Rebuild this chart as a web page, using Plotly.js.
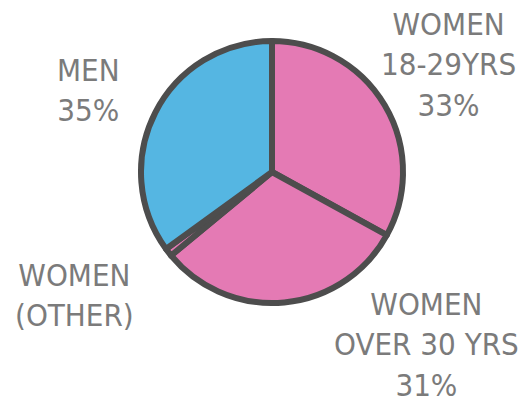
<!DOCTYPE html>
<html>
<head>
<meta charset="utf-8">
<script src="https://cdn.plot.ly/plotly-3.0.1.min.js"></script>
<style>html,body{margin:0;padding:0;background:#fff;}#chart{width:530px;height:408px;}</style>
</head>
<body>
<div id="chart"></div>
<script>
const categories = ["WOMEN 18-29YRS", "WOMEN OVER 30 YRS", "WOMEN (OTHER)", "MEN"];
const shares = [33, 31, 1, 35];
const sliceColors = ["#e47ab4", "#e47ab4", "#e47ab4", "#55b6e2"];
const labelTexts = [
  "WOMEN<br>18-29YRS<br>33%",
  "WOMEN<br>OVER 30 YRS<br>31%",
  "WOMEN<br>(OTHER)",
  "MEN<br>35%"
];
const labelX = [448, 426, 74, 88];
const labelY = [64, 344, 295, 90];

const W = 530, H = 408;
const trace = {
  type: "pie",
  labels: categories,
  values: shares,
  sort: false,
  direction: "clockwise",
  rotation: 0,
  textinfo: "none",
  hoverinfo: "label+percent",
  marker: {colors: sliceColors, line: {color: "#4d4d4d", width: 6}},
  domain: {x: [(272 - 131) / W, (272 + 131) / W], y: [(H - 172 - 131) / H, (H - 172 + 131) / H]},
  showlegend: false
};

const annotations = labelTexts.map((t, i) => ({
  text: t,
  x: labelX[i] / W,
  y: 1 - labelY[i] / H,
  xref: "paper", yref: "paper",
  xanchor: "center", yanchor: "middle",
  align: "center",
  showarrow: false,
  font: {family: "DejaVu Sans Condensed, DejaVu Sans, sans-serif", size: 31, color: "#7b7b7b"}
}));

Plotly.newPlot("chart", [trace], {
  width: W, height: H,
  margin: {l: 0, r: 0, t: 0, b: 0},
  paper_bgcolor: "#ffffff",
  annotations: annotations
}, {displayModeBar: false});
</script>
</body>
</html>
